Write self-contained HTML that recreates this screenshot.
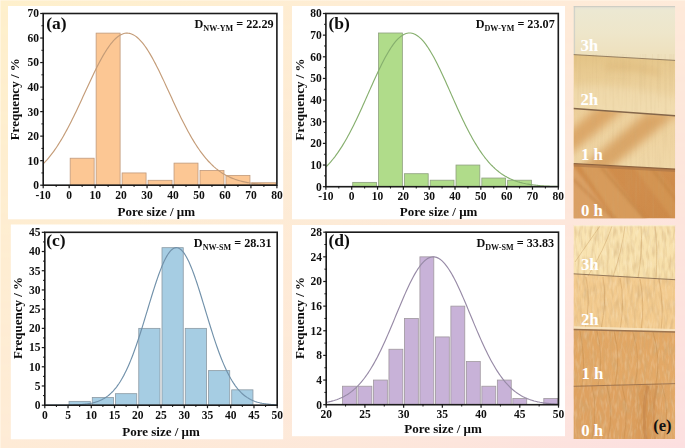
<!DOCTYPE html>
<html><head><meta charset="utf-8"><style>
html,body{margin:0;padding:0;}
body{width:685px;height:448px;overflow:hidden;position:relative;background:#FDEBD8;}
svg{position:absolute;left:0;top:0;}
</style></head><body>
<svg width="685" height="448" viewBox="0 0 685 448">
<defs>
<linearGradient id="gtop" x1="0" y1="0" x2="1" y2="0">
<stop offset="0" stop-color="#FEF0CC"/><stop offset="0.5" stop-color="#FEEDD4"/><stop offset="1" stop-color="#FEEADA"/></linearGradient>
<linearGradient id="gbot" x1="0" y1="0" x2="1" y2="0">
<stop offset="0" stop-color="#FEEBD6"/><stop offset="0.5" stop-color="#FDE8DA"/><stop offset="1" stop-color="#FCDFE0"/></linearGradient>
<linearGradient id="gvm" x1="0" y1="0" x2="0" y2="1">
<stop offset="0" stop-color="#000"/><stop offset="1" stop-color="#fff"/></linearGradient>
<mask id="mv" maskUnits="userSpaceOnUse" x="0" y="0" width="685" height="448"><rect x="0" y="0" width="685" height="448" fill="url(#gvm)"/></mask>
</defs>
<rect x="0" y="0" width="685" height="448" fill="url(#gtop)"/>
<rect x="0" y="0" width="685" height="448" fill="url(#gbot)" mask="url(#mv)"/>
<rect x="0" y="0" width="1" height="448" fill="#FFF8EA" opacity="0.6"/>
<rect x="0" y="0" width="685" height="1" fill="#FFF8EA" opacity="0.5"/>
<rect x="8" y="6" width="275.2" height="213.3" fill="#fff"/>
<rect x="292" y="6" width="273" height="213.3" fill="#fff"/>
<rect x="10.8" y="224.5" width="272.4" height="214.8" fill="#fff"/>
<rect x="292" y="225" width="273" height="211.2" fill="#fff"/>
<filter id="soft" x="-5%" y="-5%" width="110%" height="110%"><feGaussianBlur stdDeviation="0.35"/></filter>
<g font-family='"Liberation Serif", serif' font-weight="bold" fill="#111" filter="url(#soft)">
<rect x="70.17" y="158.22" width="23.97" height="26.98" fill="#FCC794" stroke="#C09A7C" stroke-width="0.8"/>
<rect x="96.13" y="33.12" width="23.97" height="152.08" fill="#FCC794" stroke="#C09A7C" stroke-width="0.8"/>
<rect x="122.1" y="172.94" width="23.97" height="12.26" fill="#FCC794" stroke="#C09A7C" stroke-width="0.8"/>
<rect x="148.07" y="180.29" width="23.97" height="4.91" fill="#FCC794" stroke="#C09A7C" stroke-width="0.8"/>
<rect x="174.03" y="163.12" width="23.97" height="22.08" fill="#FCC794" stroke="#C09A7C" stroke-width="0.8"/>
<rect x="200" y="170.48" width="23.97" height="14.72" fill="#FCC794" stroke="#C09A7C" stroke-width="0.8"/>
<rect x="225.97" y="175.39" width="23.97" height="9.81" fill="#FCC794" stroke="#C09A7C" stroke-width="0.8"/>
<rect x="251.93" y="182.75" width="23.97" height="2.45" fill="#FCC794" stroke="#C09A7C" stroke-width="0.8"/>
<polyline fill="none" stroke="#C49C78" stroke-width="1.15" points="43.2,163.82 44.37,162.63 45.54,161.39 46.71,160.1 47.87,158.76 49.04,157.37 50.21,155.93 51.38,154.43 52.55,152.89 53.72,151.29 54.89,149.65 56.05,147.95 57.22,146.2 58.39,144.39 59.56,142.54 60.73,140.64 61.9,138.69 63.06,136.69 64.23,134.64 65.4,132.54 66.57,130.4 67.74,128.22 68.91,126 70.08,123.73 71.24,121.43 72.41,119.09 73.58,116.72 74.75,114.32 75.92,111.88 77.09,109.43 78.25,106.95 79.42,104.45 80.59,101.93 81.76,99.4 82.93,96.86 84.1,94.32 85.27,91.77 86.43,89.23 87.6,86.69 88.77,84.16 89.94,81.65 91.11,79.15 92.28,76.68 93.45,74.23 94.61,71.81 95.78,69.43 96.95,67.09 98.12,64.8 99.29,62.55 100.46,60.36 101.62,58.22 102.79,56.15 103.96,54.14 105.13,52.2 106.3,50.34 107.47,48.55 108.64,46.85 109.8,45.23 110.97,43.7 112.14,42.27 113.31,40.92 114.48,39.68 115.65,38.54 116.82,37.5 117.98,36.57 119.15,35.74 120.32,35.03 121.49,34.43 122.66,33.94 123.83,33.56 124.99,33.3 126.16,33.16 127.33,33.13 128.5,33.21 129.67,33.41 130.84,33.73 132.01,34.16 133.17,34.71 134.34,35.37 135.51,36.13 136.68,37.01 137.85,38 139.02,39.09 140.19,40.28 141.35,41.57 142.52,42.96 143.69,44.44 144.86,46.01 146.03,47.67 147.2,49.42 148.37,51.24 149.53,53.14 150.7,55.11 151.87,57.15 153.04,59.26 154.21,61.42 155.38,63.64 156.54,65.91 157.71,68.23 158.88,70.59 160.05,72.99 161.22,75.42 162.39,77.88 163.56,80.37 164.72,82.87 165.89,85.4 167.06,87.93 168.23,90.47 169.4,93.02 170.57,95.56 171.74,98.1 172.9,100.64 174.07,103.16 175.24,105.67 176.41,108.16 177.58,110.63 178.75,113.08 179.91,115.49 181.08,117.88 182.25,120.24 183.42,122.56 184.59,124.84 185.76,127.09 186.93,129.29 188.09,131.46 189.26,133.57 190.43,135.65 191.6,137.67 192.77,139.65 193.94,141.58 195.11,143.45 196.27,145.28 197.44,147.06 198.61,148.78 199.78,150.46 200.95,152.08 202.12,153.65 203.28,155.17 204.45,156.64 205.62,158.05 206.79,159.42 207.96,160.74 209.13,162 210.3,163.22 211.46,164.39 212.63,165.51 213.8,166.59 214.97,167.62 216.14,168.61 217.31,169.55 218.47,170.45 219.64,171.31 220.81,172.13 221.98,172.91 223.15,173.65 224.32,174.36 225.49,175.03 226.65,175.66 227.82,176.27 228.99,176.84 230.16,177.38 231.33,177.89 232.5,178.37 233.67,178.83 234.83,179.26 236,179.67 237.17,180.05 238.34,180.41 239.51,180.74 240.68,181.06 241.84,181.36 243.01,181.64 244.18,181.9 245.35,182.14 246.52,182.37 247.69,182.58 248.86,182.78 250.02,182.97 251.19,183.14 252.36,183.3 253.53,183.45 254.7,183.59 255.87,183.72 257.04,183.84 258.2,183.95 259.37,184.05 260.54,184.15 261.71,184.24 262.88,184.32 264.05,184.39 265.21,184.46 266.38,184.53 267.55,184.58 268.72,184.64 269.89,184.69 271.06,184.73 272.23,184.78 273.39,184.81 274.56,184.85 275.73,184.88 276.9,184.91"/>
<rect x="43.2" y="13.5" width="233.7" height="171.7" fill="none" stroke="#1a1a1a" stroke-width="1.6"/>
<line x1="40.2" y1="185.2" x2="43.2" y2="185.2" stroke="#1a1a1a" stroke-width="1.2"/>
<text x="39" y="189.11" text-anchor="end" font-size="11.5">0</text>
<line x1="40.2" y1="160.67" x2="43.2" y2="160.67" stroke="#1a1a1a" stroke-width="1.2"/>
<text x="39" y="164.58" text-anchor="end" font-size="11.5">10</text>
<line x1="40.2" y1="136.14" x2="43.2" y2="136.14" stroke="#1a1a1a" stroke-width="1.2"/>
<text x="39" y="140.05" text-anchor="end" font-size="11.5">20</text>
<line x1="40.2" y1="111.61" x2="43.2" y2="111.61" stroke="#1a1a1a" stroke-width="1.2"/>
<text x="39" y="115.52" text-anchor="end" font-size="11.5">30</text>
<line x1="40.2" y1="87.09" x2="43.2" y2="87.09" stroke="#1a1a1a" stroke-width="1.2"/>
<text x="39" y="91" text-anchor="end" font-size="11.5">40</text>
<line x1="40.2" y1="62.56" x2="43.2" y2="62.56" stroke="#1a1a1a" stroke-width="1.2"/>
<text x="39" y="66.47" text-anchor="end" font-size="11.5">50</text>
<line x1="40.2" y1="38.03" x2="43.2" y2="38.03" stroke="#1a1a1a" stroke-width="1.2"/>
<text x="39" y="41.94" text-anchor="end" font-size="11.5">60</text>
<line x1="40.2" y1="13.5" x2="43.2" y2="13.5" stroke="#1a1a1a" stroke-width="1.2"/>
<text x="39" y="17.41" text-anchor="end" font-size="11.5">70</text>
<line x1="41.4" y1="172.94" x2="43.2" y2="172.94" stroke="#1a1a1a" stroke-width="1"/>
<line x1="41.4" y1="148.41" x2="43.2" y2="148.41" stroke="#1a1a1a" stroke-width="1"/>
<line x1="41.4" y1="123.88" x2="43.2" y2="123.88" stroke="#1a1a1a" stroke-width="1"/>
<line x1="41.4" y1="99.35" x2="43.2" y2="99.35" stroke="#1a1a1a" stroke-width="1"/>
<line x1="41.4" y1="74.82" x2="43.2" y2="74.82" stroke="#1a1a1a" stroke-width="1"/>
<line x1="41.4" y1="50.29" x2="43.2" y2="50.29" stroke="#1a1a1a" stroke-width="1"/>
<line x1="41.4" y1="25.76" x2="43.2" y2="25.76" stroke="#1a1a1a" stroke-width="1"/>
<line x1="43.2" y1="185.2" x2="43.2" y2="188.2" stroke="#1a1a1a" stroke-width="1.2"/>
<text x="43.2" y="198.56" text-anchor="middle" font-size="11.5">-10</text>
<line x1="69.17" y1="185.2" x2="69.17" y2="188.2" stroke="#1a1a1a" stroke-width="1.2"/>
<text x="69.17" y="198.56" text-anchor="middle" font-size="11.5">0</text>
<line x1="95.13" y1="185.2" x2="95.13" y2="188.2" stroke="#1a1a1a" stroke-width="1.2"/>
<text x="95.13" y="198.56" text-anchor="middle" font-size="11.5">10</text>
<line x1="121.1" y1="185.2" x2="121.1" y2="188.2" stroke="#1a1a1a" stroke-width="1.2"/>
<text x="121.1" y="198.56" text-anchor="middle" font-size="11.5">20</text>
<line x1="147.07" y1="185.2" x2="147.07" y2="188.2" stroke="#1a1a1a" stroke-width="1.2"/>
<text x="147.07" y="198.56" text-anchor="middle" font-size="11.5">30</text>
<line x1="173.03" y1="185.2" x2="173.03" y2="188.2" stroke="#1a1a1a" stroke-width="1.2"/>
<text x="173.03" y="198.56" text-anchor="middle" font-size="11.5">40</text>
<line x1="199" y1="185.2" x2="199" y2="188.2" stroke="#1a1a1a" stroke-width="1.2"/>
<text x="199" y="198.56" text-anchor="middle" font-size="11.5">50</text>
<line x1="224.97" y1="185.2" x2="224.97" y2="188.2" stroke="#1a1a1a" stroke-width="1.2"/>
<text x="224.97" y="198.56" text-anchor="middle" font-size="11.5">60</text>
<line x1="250.93" y1="185.2" x2="250.93" y2="188.2" stroke="#1a1a1a" stroke-width="1.2"/>
<text x="250.93" y="198.56" text-anchor="middle" font-size="11.5">70</text>
<line x1="276.9" y1="185.2" x2="276.9" y2="188.2" stroke="#1a1a1a" stroke-width="1.2"/>
<text x="276.9" y="198.56" text-anchor="middle" font-size="11.5">80</text>
<line x1="56.18" y1="185.2" x2="56.18" y2="187" stroke="#1a1a1a" stroke-width="1"/>
<line x1="82.15" y1="185.2" x2="82.15" y2="187" stroke="#1a1a1a" stroke-width="1"/>
<line x1="108.12" y1="185.2" x2="108.12" y2="187" stroke="#1a1a1a" stroke-width="1"/>
<line x1="134.08" y1="185.2" x2="134.08" y2="187" stroke="#1a1a1a" stroke-width="1"/>
<line x1="160.05" y1="185.2" x2="160.05" y2="187" stroke="#1a1a1a" stroke-width="1"/>
<line x1="186.02" y1="185.2" x2="186.02" y2="187" stroke="#1a1a1a" stroke-width="1"/>
<line x1="211.98" y1="185.2" x2="211.98" y2="187" stroke="#1a1a1a" stroke-width="1"/>
<line x1="237.95" y1="185.2" x2="237.95" y2="187" stroke="#1a1a1a" stroke-width="1"/>
<line x1="263.92" y1="185.2" x2="263.92" y2="187" stroke="#1a1a1a" stroke-width="1"/>
<text x="156.3" y="216.2" text-anchor="middle" font-size="13">Pore size / &#956;m</text>
<text transform="translate(18.7 99.3) rotate(-90)" text-anchor="middle" font-size="13">Frequency / %</text>
<text x="46.3" y="29.2" font-size="17.5">(a)</text>
<text x="273.6" y="28" text-anchor="end" font-size="12.2">D<tspan font-size="8.1" dy="3">NW-YM</tspan><tspan dy="-3"> = 22.29</tspan></text>
<rect x="352.72" y="182.37" width="23.82" height="4.33" fill="#B0DC8A" stroke="#8EA07E" stroke-width="0.8"/>
<rect x="378.54" y="32.99" width="23.82" height="153.71" fill="#B0DC8A" stroke="#8EA07E" stroke-width="0.8"/>
<rect x="404.37" y="173.71" width="23.82" height="12.99" fill="#B0DC8A" stroke="#8EA07E" stroke-width="0.8"/>
<rect x="430.19" y="180.2" width="23.82" height="6.5" fill="#B0DC8A" stroke="#8EA07E" stroke-width="0.8"/>
<rect x="456.01" y="165.05" width="23.82" height="21.65" fill="#B0DC8A" stroke="#8EA07E" stroke-width="0.8"/>
<rect x="481.83" y="178.04" width="23.82" height="8.66" fill="#B0DC8A" stroke="#8EA07E" stroke-width="0.8"/>
<rect x="507.66" y="180.2" width="23.82" height="6.5" fill="#B0DC8A" stroke="#8EA07E" stroke-width="0.8"/>
<polyline fill="none" stroke="#86AF6E" stroke-width="1.15" points="325.9,166.92 327.06,165.77 328.22,164.57 329.39,163.32 330.55,162.01 331.71,160.66 332.87,159.25 334.03,157.79 335.2,156.28 336.36,154.71 337.52,153.09 338.68,151.42 339.84,149.69 341.01,147.9 342.17,146.07 343.33,144.17 344.49,142.23 345.65,140.24 346.82,138.19 347.98,136.09 349.14,133.95 350.3,131.75 351.46,129.51 352.63,127.23 353.79,124.9 354.95,122.54 356.11,120.13 357.27,117.69 358.44,115.22 359.6,112.72 360.76,110.19 361.92,107.64 363.08,105.06 364.25,102.47 365.41,99.87 366.57,97.25 367.73,94.63 368.89,92.01 370.06,89.39 371.22,86.78 372.38,84.18 373.54,81.59 374.7,79.02 375.87,76.48 377.03,73.97 378.19,71.49 379.35,69.05 380.51,66.65 381.68,64.3 382.84,62 384,59.77 385.16,57.59 386.32,55.48 387.49,53.44 388.65,51.47 389.81,49.59 390.97,47.79 392.13,46.07 393.3,44.45 394.46,42.92 395.62,41.49 396.78,40.17 397.94,38.95 399.11,37.83 400.27,36.83 401.43,35.94 402.59,35.16 403.75,34.5 404.92,33.95 406.08,33.53 407.24,33.23 408.4,33.05 409.56,32.99 410.73,33.05 411.89,33.23 413.05,33.53 414.21,33.95 415.37,34.5 416.54,35.16 417.7,35.94 418.86,36.83 420.02,37.83 421.18,38.95 422.35,40.17 423.51,41.49 424.67,42.92 425.83,44.45 426.99,46.07 428.16,47.79 429.32,49.59 430.48,51.47 431.64,53.44 432.8,55.48 433.97,57.59 435.13,59.77 436.29,62 437.45,64.3 438.61,66.65 439.78,69.05 440.94,71.49 442.1,73.97 443.26,76.48 444.42,79.02 445.59,81.59 446.75,84.18 447.91,86.78 449.07,89.39 450.23,92.01 451.4,94.63 452.56,97.25 453.72,99.87 454.88,102.47 456.04,105.06 457.21,107.64 458.37,110.19 459.53,112.72 460.69,115.22 461.85,117.69 463.02,120.13 464.18,122.54 465.34,124.9 466.5,127.23 467.66,129.51 468.83,131.75 469.99,133.95 471.15,136.09 472.31,138.19 473.47,140.24 474.64,142.23 475.8,144.17 476.96,146.07 478.12,147.9 479.28,149.69 480.45,151.42 481.61,153.09 482.77,154.71 483.93,156.28 485.09,157.79 486.26,159.25 487.42,160.66 488.58,162.01 489.74,163.32 490.9,164.57 492.07,165.77 493.23,166.92 494.39,168.02 495.55,169.08 496.71,170.08 497.88,171.05 499.04,171.97 500.2,172.84 501.36,173.68 502.52,174.47 503.69,175.22 504.85,175.94 506.01,176.62 507.17,177.27 508.33,177.88 509.5,178.45 510.66,179 511.82,179.51 512.98,180 514.14,180.46 515.31,180.89 516.47,181.29 517.63,181.68 518.79,182.03 519.95,182.37 521.12,182.68 522.28,182.98 523.44,183.26 524.6,183.51 525.76,183.76 526.93,183.98 528.09,184.19 529.25,184.39 530.41,184.57 531.57,184.74 532.74,184.89 533.9,185.04 535.06,185.18 536.22,185.3 537.38,185.42 538.55,185.52 539.71,185.62 540.87,185.72 542.03,185.8 543.19,185.88 544.36,185.95 545.52,186.02 546.68,186.08 547.84,186.13 549,186.18 550.17,186.23 551.33,186.27 552.49,186.31 553.65,186.35 554.81,186.38 555.98,186.41 557.14,186.44 558.3,186.46"/>
<rect x="325.9" y="13.5" width="232.4" height="173.2" fill="none" stroke="#1a1a1a" stroke-width="1.6"/>
<line x1="322.9" y1="186.7" x2="325.9" y2="186.7" stroke="#1a1a1a" stroke-width="1.2"/>
<text x="321.7" y="190.61" text-anchor="end" font-size="11.5">0</text>
<line x1="322.9" y1="165.05" x2="325.9" y2="165.05" stroke="#1a1a1a" stroke-width="1.2"/>
<text x="321.7" y="168.96" text-anchor="end" font-size="11.5">10</text>
<line x1="322.9" y1="143.4" x2="325.9" y2="143.4" stroke="#1a1a1a" stroke-width="1.2"/>
<text x="321.7" y="147.31" text-anchor="end" font-size="11.5">20</text>
<line x1="322.9" y1="121.75" x2="325.9" y2="121.75" stroke="#1a1a1a" stroke-width="1.2"/>
<text x="321.7" y="125.66" text-anchor="end" font-size="11.5">30</text>
<line x1="322.9" y1="100.1" x2="325.9" y2="100.1" stroke="#1a1a1a" stroke-width="1.2"/>
<text x="321.7" y="104.01" text-anchor="end" font-size="11.5">40</text>
<line x1="322.9" y1="78.45" x2="325.9" y2="78.45" stroke="#1a1a1a" stroke-width="1.2"/>
<text x="321.7" y="82.36" text-anchor="end" font-size="11.5">50</text>
<line x1="322.9" y1="56.8" x2="325.9" y2="56.8" stroke="#1a1a1a" stroke-width="1.2"/>
<text x="321.7" y="60.71" text-anchor="end" font-size="11.5">60</text>
<line x1="322.9" y1="35.15" x2="325.9" y2="35.15" stroke="#1a1a1a" stroke-width="1.2"/>
<text x="321.7" y="39.06" text-anchor="end" font-size="11.5">70</text>
<line x1="322.9" y1="13.5" x2="325.9" y2="13.5" stroke="#1a1a1a" stroke-width="1.2"/>
<text x="321.7" y="17.41" text-anchor="end" font-size="11.5">80</text>
<line x1="324.1" y1="175.88" x2="325.9" y2="175.88" stroke="#1a1a1a" stroke-width="1"/>
<line x1="324.1" y1="154.22" x2="325.9" y2="154.22" stroke="#1a1a1a" stroke-width="1"/>
<line x1="324.1" y1="132.57" x2="325.9" y2="132.57" stroke="#1a1a1a" stroke-width="1"/>
<line x1="324.1" y1="110.92" x2="325.9" y2="110.92" stroke="#1a1a1a" stroke-width="1"/>
<line x1="324.1" y1="89.27" x2="325.9" y2="89.27" stroke="#1a1a1a" stroke-width="1"/>
<line x1="324.1" y1="67.62" x2="325.9" y2="67.62" stroke="#1a1a1a" stroke-width="1"/>
<line x1="324.1" y1="45.97" x2="325.9" y2="45.97" stroke="#1a1a1a" stroke-width="1"/>
<line x1="324.1" y1="24.32" x2="325.9" y2="24.32" stroke="#1a1a1a" stroke-width="1"/>
<line x1="325.9" y1="186.7" x2="325.9" y2="189.7" stroke="#1a1a1a" stroke-width="1.2"/>
<text x="325.9" y="200.06" text-anchor="middle" font-size="11.5">-10</text>
<line x1="351.72" y1="186.7" x2="351.72" y2="189.7" stroke="#1a1a1a" stroke-width="1.2"/>
<text x="351.72" y="200.06" text-anchor="middle" font-size="11.5">0</text>
<line x1="377.54" y1="186.7" x2="377.54" y2="189.7" stroke="#1a1a1a" stroke-width="1.2"/>
<text x="377.54" y="200.06" text-anchor="middle" font-size="11.5">10</text>
<line x1="403.37" y1="186.7" x2="403.37" y2="189.7" stroke="#1a1a1a" stroke-width="1.2"/>
<text x="403.37" y="200.06" text-anchor="middle" font-size="11.5">20</text>
<line x1="429.19" y1="186.7" x2="429.19" y2="189.7" stroke="#1a1a1a" stroke-width="1.2"/>
<text x="429.19" y="200.06" text-anchor="middle" font-size="11.5">30</text>
<line x1="455.01" y1="186.7" x2="455.01" y2="189.7" stroke="#1a1a1a" stroke-width="1.2"/>
<text x="455.01" y="200.06" text-anchor="middle" font-size="11.5">40</text>
<line x1="480.83" y1="186.7" x2="480.83" y2="189.7" stroke="#1a1a1a" stroke-width="1.2"/>
<text x="480.83" y="200.06" text-anchor="middle" font-size="11.5">50</text>
<line x1="506.66" y1="186.7" x2="506.66" y2="189.7" stroke="#1a1a1a" stroke-width="1.2"/>
<text x="506.66" y="200.06" text-anchor="middle" font-size="11.5">60</text>
<line x1="532.48" y1="186.7" x2="532.48" y2="189.7" stroke="#1a1a1a" stroke-width="1.2"/>
<text x="532.48" y="200.06" text-anchor="middle" font-size="11.5">70</text>
<line x1="558.3" y1="186.7" x2="558.3" y2="189.7" stroke="#1a1a1a" stroke-width="1.2"/>
<text x="558.3" y="200.06" text-anchor="middle" font-size="11.5">80</text>
<line x1="338.81" y1="186.7" x2="338.81" y2="188.5" stroke="#1a1a1a" stroke-width="1"/>
<line x1="364.63" y1="186.7" x2="364.63" y2="188.5" stroke="#1a1a1a" stroke-width="1"/>
<line x1="390.46" y1="186.7" x2="390.46" y2="188.5" stroke="#1a1a1a" stroke-width="1"/>
<line x1="416.28" y1="186.7" x2="416.28" y2="188.5" stroke="#1a1a1a" stroke-width="1"/>
<line x1="442.1" y1="186.7" x2="442.1" y2="188.5" stroke="#1a1a1a" stroke-width="1"/>
<line x1="467.92" y1="186.7" x2="467.92" y2="188.5" stroke="#1a1a1a" stroke-width="1"/>
<line x1="493.74" y1="186.7" x2="493.74" y2="188.5" stroke="#1a1a1a" stroke-width="1"/>
<line x1="519.57" y1="186.7" x2="519.57" y2="188.5" stroke="#1a1a1a" stroke-width="1"/>
<line x1="545.39" y1="186.7" x2="545.39" y2="188.5" stroke="#1a1a1a" stroke-width="1"/>
<text x="438.6" y="216.2" text-anchor="middle" font-size="13">Pore size / &#956;m</text>
<text transform="translate(303.5 99.5) rotate(-90)" text-anchor="middle" font-size="13">Frequency / %</text>
<text x="328.5" y="29.2" font-size="17.5">(b)</text>
<text x="554.8" y="28" text-anchor="end" font-size="12.2">D<tspan font-size="8.1" dy="3">DW-YM</tspan><tspan dy="-3"> = 23.07</tspan></text>
<rect x="69.04" y="401.36" width="21.24" height="3.84" fill="#A6CDE3" stroke="#8C9AA4" stroke-width="0.8"/>
<rect x="92.28" y="397.52" width="21.24" height="7.68" fill="#A6CDE3" stroke="#8C9AA4" stroke-width="0.8"/>
<rect x="115.52" y="393.67" width="21.24" height="11.53" fill="#A6CDE3" stroke="#8C9AA4" stroke-width="0.8"/>
<rect x="138.76" y="328.36" width="21.24" height="76.84" fill="#A6CDE3" stroke="#8C9AA4" stroke-width="0.8"/>
<rect x="162" y="247.67" width="21.24" height="157.53" fill="#A6CDE3" stroke="#8C9AA4" stroke-width="0.8"/>
<rect x="185.24" y="328.36" width="21.24" height="76.84" fill="#A6CDE3" stroke="#8C9AA4" stroke-width="0.8"/>
<rect x="208.48" y="370.62" width="21.24" height="34.58" fill="#A6CDE3" stroke="#8C9AA4" stroke-width="0.8"/>
<rect x="231.72" y="389.83" width="21.24" height="15.37" fill="#A6CDE3" stroke="#8C9AA4" stroke-width="0.8"/>
<polyline fill="none" stroke="#7191AA" stroke-width="1.15" points="44.8,405.2 45.96,405.19 47.12,405.19 48.29,405.19 49.45,405.19 50.61,405.19 51.77,405.19 52.93,405.18 54.1,405.18 55.26,405.18 56.42,405.17 57.58,405.17 58.74,405.16 59.91,405.16 61.07,405.15 62.23,405.14 63.39,405.13 64.55,405.12 65.72,405.1 66.88,405.08 68.04,405.07 69.2,405.04 70.36,405.02 71.53,404.99 72.69,404.96 73.85,404.92 75.01,404.88 76.17,404.83 77.34,404.77 78.5,404.71 79.66,404.64 80.82,404.56 81.98,404.46 83.15,404.36 84.31,404.24 85.47,404.11 86.63,403.97 87.79,403.8 88.96,403.62 90.12,403.42 91.28,403.19 92.44,402.94 93.6,402.66 94.77,402.35 95.93,402 97.09,401.63 98.25,401.21 99.41,400.75 100.58,400.25 101.74,399.7 102.9,399.1 104.06,398.44 105.22,397.73 106.39,396.96 107.55,396.11 108.71,395.2 109.87,394.22 111.03,393.16 112.2,392.02 113.36,390.79 114.52,389.47 115.68,388.07 116.84,386.56 118.01,384.96 119.17,383.25 120.33,381.44 121.49,379.53 122.65,377.5 123.82,375.36 124.98,373.11 126.14,370.75 127.3,368.27 128.46,365.67 129.63,362.97 130.79,360.15 131.95,357.22 133.11,354.18 134.27,351.04 135.44,347.8 136.6,344.46 137.76,341.04 138.92,337.53 140.08,333.95 141.25,330.3 142.41,326.58 143.57,322.82 144.73,319.02 145.89,315.19 147.06,311.35 148.22,307.5 149.38,303.65 150.54,299.83 151.7,296.03 152.87,292.29 154.03,288.61 155.19,285 156.35,281.48 157.51,278.07 158.68,274.77 159.84,271.61 161,268.59 162.16,265.73 163.32,263.05 164.49,260.54 165.65,258.23 166.81,256.13 167.97,254.24 169.13,252.58 170.3,251.15 171.46,249.95 172.62,249.01 173.78,248.31 174.94,247.87 176.11,247.68 177.27,247.74 178.43,248.07 179.59,248.64 180.75,249.47 181.92,250.54 183.08,251.86 184.24,253.41 185.4,255.19 186.56,257.2 187.73,259.41 188.89,261.82 190.05,264.42 191.21,267.2 192.37,270.14 193.54,273.24 194.7,276.47 195.86,279.83 197.02,283.3 198.18,286.87 199.35,290.51 200.51,294.23 201.67,298 202.83,301.81 203.99,305.65 205.16,309.5 206.32,313.35 207.48,317.19 208.64,321 209.8,324.79 210.97,328.52 212.13,332.2 213.29,335.82 214.45,339.37 215.61,342.83 216.78,346.21 217.94,349.5 219.1,352.69 220.26,355.77 221.42,358.75 222.59,361.63 223.75,364.39 224.91,367.04 226.07,369.57 227.23,371.99 228.4,374.3 229.56,376.49 230.72,378.57 231.88,380.54 233.04,382.4 234.21,384.15 235.37,385.81 236.53,387.36 237.69,388.81 238.85,390.17 240.02,391.44 241.18,392.62 242.34,393.72 243.5,394.74 244.66,395.69 245.83,396.56 246.99,397.37 248.15,398.11 249.31,398.79 250.47,399.42 251.64,399.99 252.8,400.52 253.96,400.99 255.12,401.43 256.28,401.83 257.45,402.19 258.61,402.51 259.77,402.81 260.93,403.07 262.09,403.31 263.26,403.52 264.42,403.72 265.58,403.89 266.74,404.05 267.9,404.18 269.07,404.31 270.23,404.42 271.39,404.51 272.55,404.6 273.71,404.67 274.88,404.74 276.04,404.8 277.2,404.85"/>
<rect x="44.8" y="232.3" width="232.4" height="172.9" fill="none" stroke="#1a1a1a" stroke-width="1.6"/>
<line x1="41.8" y1="405.2" x2="44.8" y2="405.2" stroke="#1a1a1a" stroke-width="1.2"/>
<text x="40.6" y="409.11" text-anchor="end" font-size="11.5">0</text>
<line x1="41.8" y1="385.99" x2="44.8" y2="385.99" stroke="#1a1a1a" stroke-width="1.2"/>
<text x="40.6" y="389.9" text-anchor="end" font-size="11.5">5</text>
<line x1="41.8" y1="366.78" x2="44.8" y2="366.78" stroke="#1a1a1a" stroke-width="1.2"/>
<text x="40.6" y="370.69" text-anchor="end" font-size="11.5">10</text>
<line x1="41.8" y1="347.57" x2="44.8" y2="347.57" stroke="#1a1a1a" stroke-width="1.2"/>
<text x="40.6" y="351.48" text-anchor="end" font-size="11.5">15</text>
<line x1="41.8" y1="328.36" x2="44.8" y2="328.36" stroke="#1a1a1a" stroke-width="1.2"/>
<text x="40.6" y="332.27" text-anchor="end" font-size="11.5">20</text>
<line x1="41.8" y1="309.14" x2="44.8" y2="309.14" stroke="#1a1a1a" stroke-width="1.2"/>
<text x="40.6" y="313.05" text-anchor="end" font-size="11.5">25</text>
<line x1="41.8" y1="289.93" x2="44.8" y2="289.93" stroke="#1a1a1a" stroke-width="1.2"/>
<text x="40.6" y="293.84" text-anchor="end" font-size="11.5">30</text>
<line x1="41.8" y1="270.72" x2="44.8" y2="270.72" stroke="#1a1a1a" stroke-width="1.2"/>
<text x="40.6" y="274.63" text-anchor="end" font-size="11.5">35</text>
<line x1="41.8" y1="251.51" x2="44.8" y2="251.51" stroke="#1a1a1a" stroke-width="1.2"/>
<text x="40.6" y="255.42" text-anchor="end" font-size="11.5">40</text>
<line x1="41.8" y1="232.3" x2="44.8" y2="232.3" stroke="#1a1a1a" stroke-width="1.2"/>
<text x="40.6" y="236.21" text-anchor="end" font-size="11.5">45</text>
<line x1="43" y1="395.59" x2="44.8" y2="395.59" stroke="#1a1a1a" stroke-width="1"/>
<line x1="43" y1="376.38" x2="44.8" y2="376.38" stroke="#1a1a1a" stroke-width="1"/>
<line x1="43" y1="357.17" x2="44.8" y2="357.17" stroke="#1a1a1a" stroke-width="1"/>
<line x1="43" y1="337.96" x2="44.8" y2="337.96" stroke="#1a1a1a" stroke-width="1"/>
<line x1="43" y1="318.75" x2="44.8" y2="318.75" stroke="#1a1a1a" stroke-width="1"/>
<line x1="43" y1="299.54" x2="44.8" y2="299.54" stroke="#1a1a1a" stroke-width="1"/>
<line x1="43" y1="280.33" x2="44.8" y2="280.33" stroke="#1a1a1a" stroke-width="1"/>
<line x1="43" y1="261.12" x2="44.8" y2="261.12" stroke="#1a1a1a" stroke-width="1"/>
<line x1="43" y1="241.91" x2="44.8" y2="241.91" stroke="#1a1a1a" stroke-width="1"/>
<line x1="44.8" y1="405.2" x2="44.8" y2="408.2" stroke="#1a1a1a" stroke-width="1.2"/>
<text x="44.8" y="418.56" text-anchor="middle" font-size="11.5">0</text>
<line x1="68.04" y1="405.2" x2="68.04" y2="408.2" stroke="#1a1a1a" stroke-width="1.2"/>
<text x="68.04" y="418.56" text-anchor="middle" font-size="11.5">5</text>
<line x1="91.28" y1="405.2" x2="91.28" y2="408.2" stroke="#1a1a1a" stroke-width="1.2"/>
<text x="91.28" y="418.56" text-anchor="middle" font-size="11.5">10</text>
<line x1="114.52" y1="405.2" x2="114.52" y2="408.2" stroke="#1a1a1a" stroke-width="1.2"/>
<text x="114.52" y="418.56" text-anchor="middle" font-size="11.5">15</text>
<line x1="137.76" y1="405.2" x2="137.76" y2="408.2" stroke="#1a1a1a" stroke-width="1.2"/>
<text x="137.76" y="418.56" text-anchor="middle" font-size="11.5">20</text>
<line x1="161" y1="405.2" x2="161" y2="408.2" stroke="#1a1a1a" stroke-width="1.2"/>
<text x="161" y="418.56" text-anchor="middle" font-size="11.5">25</text>
<line x1="184.24" y1="405.2" x2="184.24" y2="408.2" stroke="#1a1a1a" stroke-width="1.2"/>
<text x="184.24" y="418.56" text-anchor="middle" font-size="11.5">30</text>
<line x1="207.48" y1="405.2" x2="207.48" y2="408.2" stroke="#1a1a1a" stroke-width="1.2"/>
<text x="207.48" y="418.56" text-anchor="middle" font-size="11.5">35</text>
<line x1="230.72" y1="405.2" x2="230.72" y2="408.2" stroke="#1a1a1a" stroke-width="1.2"/>
<text x="230.72" y="418.56" text-anchor="middle" font-size="11.5">40</text>
<line x1="253.96" y1="405.2" x2="253.96" y2="408.2" stroke="#1a1a1a" stroke-width="1.2"/>
<text x="253.96" y="418.56" text-anchor="middle" font-size="11.5">45</text>
<line x1="277.2" y1="405.2" x2="277.2" y2="408.2" stroke="#1a1a1a" stroke-width="1.2"/>
<text x="277.2" y="418.56" text-anchor="middle" font-size="11.5">50</text>
<line x1="56.42" y1="405.2" x2="56.42" y2="407" stroke="#1a1a1a" stroke-width="1"/>
<line x1="79.66" y1="405.2" x2="79.66" y2="407" stroke="#1a1a1a" stroke-width="1"/>
<line x1="102.9" y1="405.2" x2="102.9" y2="407" stroke="#1a1a1a" stroke-width="1"/>
<line x1="126.14" y1="405.2" x2="126.14" y2="407" stroke="#1a1a1a" stroke-width="1"/>
<line x1="149.38" y1="405.2" x2="149.38" y2="407" stroke="#1a1a1a" stroke-width="1"/>
<line x1="172.62" y1="405.2" x2="172.62" y2="407" stroke="#1a1a1a" stroke-width="1"/>
<line x1="195.86" y1="405.2" x2="195.86" y2="407" stroke="#1a1a1a" stroke-width="1"/>
<line x1="219.1" y1="405.2" x2="219.1" y2="407" stroke="#1a1a1a" stroke-width="1"/>
<line x1="242.34" y1="405.2" x2="242.34" y2="407" stroke="#1a1a1a" stroke-width="1"/>
<line x1="265.58" y1="405.2" x2="265.58" y2="407" stroke="#1a1a1a" stroke-width="1"/>
<text x="161" y="435.9" text-anchor="middle" font-size="13">Pore size / &#956;m</text>
<text transform="translate(21.5 318) rotate(-90)" text-anchor="middle" font-size="13">Frequency / %</text>
<text x="46.2" y="246.3" font-size="17.5">(c)</text>
<text x="271.6" y="246.8" text-anchor="end" font-size="12.2">D<tspan font-size="8.1" dy="3">NW-SM</tspan><tspan dy="-3"> = 28.31</tspan></text>
<rect x="342.49" y="386.22" width="13.89" height="18.48" fill="#C8B2D8" stroke="#A0989F" stroke-width="0.8"/>
<rect x="357.97" y="386.22" width="13.89" height="18.48" fill="#C8B2D8" stroke="#A0989F" stroke-width="0.8"/>
<rect x="373.46" y="380.06" width="13.89" height="24.64" fill="#C8B2D8" stroke="#A0989F" stroke-width="0.8"/>
<rect x="388.95" y="349.25" width="13.89" height="55.45" fill="#C8B2D8" stroke="#A0989F" stroke-width="0.8"/>
<rect x="404.43" y="318.45" width="13.89" height="86.25" fill="#C8B2D8" stroke="#A0989F" stroke-width="0.8"/>
<rect x="419.92" y="256.84" width="13.89" height="147.86" fill="#C8B2D8" stroke="#A0989F" stroke-width="0.8"/>
<rect x="435.41" y="336.93" width="13.89" height="67.77" fill="#C8B2D8" stroke="#A0989F" stroke-width="0.8"/>
<rect x="450.89" y="306.13" width="13.89" height="98.57" fill="#C8B2D8" stroke="#A0989F" stroke-width="0.8"/>
<rect x="466.38" y="361.57" width="13.89" height="43.12" fill="#C8B2D8" stroke="#A0989F" stroke-width="0.8"/>
<rect x="481.87" y="386.22" width="13.89" height="18.48" fill="#C8B2D8" stroke="#A0989F" stroke-width="0.8"/>
<rect x="497.35" y="380.06" width="13.89" height="24.64" fill="#C8B2D8" stroke="#A0989F" stroke-width="0.8"/>
<rect x="512.84" y="398.54" width="13.89" height="6.16" fill="#C8B2D8" stroke="#A0989F" stroke-width="0.8"/>
<rect x="543.81" y="398.54" width="13.89" height="6.16" fill="#C8B2D8" stroke="#A0989F" stroke-width="0.8"/>
<polyline fill="none" stroke="#978AA6" stroke-width="1.15" points="326.2,402.37 327.36,402.15 328.52,401.92 329.68,401.66 330.85,401.39 332.01,401.09 333.17,400.77 334.33,400.43 335.49,400.06 336.65,399.67 337.81,399.24 338.98,398.79 340.14,398.3 341.3,397.79 342.46,397.23 343.62,396.65 344.78,396.02 345.95,395.35 347.11,394.65 348.27,393.9 349.43,393.1 350.59,392.26 351.75,391.37 352.91,390.43 354.08,389.44 355.24,388.4 356.4,387.3 357.56,386.15 358.72,384.94 359.88,383.67 361.04,382.34 362.21,380.95 363.37,379.5 364.53,377.99 365.69,376.42 366.85,374.78 368.01,373.07 369.18,371.3 370.34,369.47 371.5,367.57 372.66,365.61 373.82,363.59 374.98,361.5 376.14,359.36 377.31,357.15 378.47,354.88 379.63,352.55 380.79,350.17 381.95,347.74 383.11,345.26 384.27,342.73 385.44,340.15 386.6,337.53 387.76,334.88 388.92,332.19 390.08,329.47 391.24,326.73 392.41,323.96 393.57,321.18 394.73,318.38 395.89,315.58 397.05,312.78 398.21,309.98 399.37,307.19 400.54,304.42 401.7,301.67 402.86,298.95 404.02,296.26 405.18,293.62 406.34,291.01 407.5,288.47 408.67,285.98 409.83,283.55 410.99,281.2 412.15,278.92 413.31,276.73 414.47,274.63 415.64,272.62 416.8,270.71 417.96,268.9 419.12,267.21 420.28,265.63 421.44,264.17 422.6,262.83 423.77,261.62 424.93,260.54 426.09,259.59 427.25,258.78 428.41,258.11 429.57,257.58 430.74,257.19 431.9,256.95 433.06,256.85 434.22,256.89 435.38,257.08 436.54,257.41 437.7,257.88 438.87,258.5 440.03,259.25 441.19,260.14 442.35,261.17 443.51,262.33 444.67,263.62 445.83,265.03 447,266.56 448.16,268.21 449.32,269.97 450.48,271.84 451.64,273.81 452.8,275.88 453.97,278.04 455.13,280.28 456.29,282.6 457.45,285 458.61,287.46 459.77,289.99 460.93,292.57 462.1,295.2 463.26,297.87 464.42,300.58 465.58,303.32 466.74,306.08 467.9,308.86 469.06,311.66 470.23,314.46 471.39,317.26 472.55,320.06 473.71,322.85 474.87,325.62 476.03,328.38 477.19,331.11 478.36,333.81 479.52,336.48 480.68,339.11 481.84,341.7 483,344.25 484.16,346.75 485.33,349.21 486.49,351.61 487.65,353.96 488.81,356.25 489.97,358.48 491.13,360.65 492.29,362.76 493.46,364.81 494.62,366.8 495.78,368.72 496.94,370.58 498.1,372.37 499.26,374.1 500.43,375.77 501.59,377.37 502.75,378.91 503.91,380.38 505.07,381.79 506.23,383.15 507.39,384.44 508.56,385.67 509.72,386.85 510.88,387.97 512.04,389.03 513.2,390.04 514.36,391 515.52,391.91 516.69,392.77 517.85,393.58 519.01,394.35 520.17,395.08 521.33,395.76 522.49,396.4 523.65,397 524.82,397.57 525.98,398.1 527.14,398.6 528.3,399.06 529.46,399.5 530.62,399.91 531.79,400.29 532.95,400.64 534.11,400.97 535.27,401.27 536.43,401.55 537.59,401.82 538.75,402.06 539.92,402.29 541.08,402.49 542.24,402.69 543.4,402.86 544.56,403.03 545.72,403.18 546.88,403.31 548.05,403.44 549.21,403.56 550.37,403.66 551.53,403.76 552.69,403.85 553.85,403.93 555.02,404.01 556.18,404.07 557.34,404.14 558.5,404.19"/>
<rect x="326.2" y="232.2" width="232.3" height="172.5" fill="none" stroke="#1a1a1a" stroke-width="1.6"/>
<line x1="323.2" y1="404.7" x2="326.2" y2="404.7" stroke="#1a1a1a" stroke-width="1.2"/>
<text x="322" y="408.61" text-anchor="end" font-size="11.5">0</text>
<line x1="323.2" y1="380.06" x2="326.2" y2="380.06" stroke="#1a1a1a" stroke-width="1.2"/>
<text x="322" y="383.97" text-anchor="end" font-size="11.5">4</text>
<line x1="323.2" y1="355.41" x2="326.2" y2="355.41" stroke="#1a1a1a" stroke-width="1.2"/>
<text x="322" y="359.32" text-anchor="end" font-size="11.5">8</text>
<line x1="323.2" y1="330.77" x2="326.2" y2="330.77" stroke="#1a1a1a" stroke-width="1.2"/>
<text x="322" y="334.68" text-anchor="end" font-size="11.5">12</text>
<line x1="323.2" y1="306.13" x2="326.2" y2="306.13" stroke="#1a1a1a" stroke-width="1.2"/>
<text x="322" y="310.04" text-anchor="end" font-size="11.5">16</text>
<line x1="323.2" y1="281.49" x2="326.2" y2="281.49" stroke="#1a1a1a" stroke-width="1.2"/>
<text x="322" y="285.4" text-anchor="end" font-size="11.5">20</text>
<line x1="323.2" y1="256.84" x2="326.2" y2="256.84" stroke="#1a1a1a" stroke-width="1.2"/>
<text x="322" y="260.75" text-anchor="end" font-size="11.5">24</text>
<line x1="323.2" y1="232.2" x2="326.2" y2="232.2" stroke="#1a1a1a" stroke-width="1.2"/>
<text x="322" y="236.11" text-anchor="end" font-size="11.5">28</text>
<line x1="324.4" y1="392.38" x2="326.2" y2="392.38" stroke="#1a1a1a" stroke-width="1"/>
<line x1="324.4" y1="367.74" x2="326.2" y2="367.74" stroke="#1a1a1a" stroke-width="1"/>
<line x1="324.4" y1="343.09" x2="326.2" y2="343.09" stroke="#1a1a1a" stroke-width="1"/>
<line x1="324.4" y1="318.45" x2="326.2" y2="318.45" stroke="#1a1a1a" stroke-width="1"/>
<line x1="324.4" y1="293.81" x2="326.2" y2="293.81" stroke="#1a1a1a" stroke-width="1"/>
<line x1="324.4" y1="269.16" x2="326.2" y2="269.16" stroke="#1a1a1a" stroke-width="1"/>
<line x1="324.4" y1="244.52" x2="326.2" y2="244.52" stroke="#1a1a1a" stroke-width="1"/>
<line x1="326.2" y1="404.7" x2="326.2" y2="407.7" stroke="#1a1a1a" stroke-width="1.2"/>
<text x="326.2" y="418.06" text-anchor="middle" font-size="11.5">20</text>
<line x1="364.92" y1="404.7" x2="364.92" y2="407.7" stroke="#1a1a1a" stroke-width="1.2"/>
<text x="364.92" y="418.06" text-anchor="middle" font-size="11.5">25</text>
<line x1="403.63" y1="404.7" x2="403.63" y2="407.7" stroke="#1a1a1a" stroke-width="1.2"/>
<text x="403.63" y="418.06" text-anchor="middle" font-size="11.5">30</text>
<line x1="442.35" y1="404.7" x2="442.35" y2="407.7" stroke="#1a1a1a" stroke-width="1.2"/>
<text x="442.35" y="418.06" text-anchor="middle" font-size="11.5">35</text>
<line x1="481.07" y1="404.7" x2="481.07" y2="407.7" stroke="#1a1a1a" stroke-width="1.2"/>
<text x="481.07" y="418.06" text-anchor="middle" font-size="11.5">40</text>
<line x1="519.78" y1="404.7" x2="519.78" y2="407.7" stroke="#1a1a1a" stroke-width="1.2"/>
<text x="519.78" y="418.06" text-anchor="middle" font-size="11.5">45</text>
<line x1="558.5" y1="404.7" x2="558.5" y2="407.7" stroke="#1a1a1a" stroke-width="1.2"/>
<text x="558.5" y="418.06" text-anchor="middle" font-size="11.5">50</text>
<line x1="345.56" y1="404.7" x2="345.56" y2="406.5" stroke="#1a1a1a" stroke-width="1"/>
<line x1="384.27" y1="404.7" x2="384.27" y2="406.5" stroke="#1a1a1a" stroke-width="1"/>
<line x1="422.99" y1="404.7" x2="422.99" y2="406.5" stroke="#1a1a1a" stroke-width="1"/>
<line x1="461.71" y1="404.7" x2="461.71" y2="406.5" stroke="#1a1a1a" stroke-width="1"/>
<line x1="500.43" y1="404.7" x2="500.43" y2="406.5" stroke="#1a1a1a" stroke-width="1"/>
<line x1="539.14" y1="404.7" x2="539.14" y2="406.5" stroke="#1a1a1a" stroke-width="1"/>
<text x="443" y="433.3" text-anchor="middle" font-size="13">Pore size / &#956;m</text>
<text transform="translate(303.5 318) rotate(-90)" text-anchor="middle" font-size="13">Frequency / %</text>
<text x="328.5" y="246.3" font-size="17.5">(d)</text>
<text x="554.2" y="246.8" text-anchor="end" font-size="12.2">D<tspan font-size="8.1" dy="3">DW-SM</tspan><tspan dy="-3"> = 33.83</tspan></text>
</g>
<defs>
<linearGradient id="t3" x1="0" y1="0" x2="0" y2="1">
<stop offset="0" stop-color="#E4E2D6"/><stop offset="0.08" stop-color="#ECE8D2"/><stop offset="0.5" stop-color="#EEE6CA"/><stop offset="1" stop-color="#EEDFBA"/></linearGradient>
<linearGradient id="t2" x1="0" y1="0" x2="0.15" y2="1">
<stop offset="0" stop-color="#E3C385"/><stop offset="0.4" stop-color="#E9CC94"/><stop offset="1" stop-color="#F0D9AA"/></linearGradient>
<linearGradient id="t1" x1="0" y1="0" x2="0" y2="1">
<stop offset="0" stop-color="#EDD09C"/><stop offset="1" stop-color="#F0D8A8"/></linearGradient>
<linearGradient id="t0" x1="0" y1="0" x2="1" y2="1">
<stop offset="0" stop-color="#CF8C4A"/><stop offset="0.5" stop-color="#D08D4C"/><stop offset="1" stop-color="#CD8A49"/></linearGradient>
<linearGradient id="b3" x1="0" y1="0" x2="1" y2="1">
<stop offset="0" stop-color="#F9E4B2"/><stop offset="1" stop-color="#F7DFA9"/></linearGradient>
<linearGradient id="b2" x1="0" y1="0" x2="1" y2="1">
<stop offset="0" stop-color="#F2CA8E"/><stop offset="1" stop-color="#F3CB8E"/></linearGradient>
<linearGradient id="b1" x1="0" y1="0" x2="1" y2="1">
<stop offset="0" stop-color="#E0A562"/><stop offset="1" stop-color="#E4AA68"/></linearGradient>
<linearGradient id="b0" x1="0" y1="0" x2="1" y2="0">
<stop offset="0" stop-color="#DEA160"/><stop offset="0.55" stop-color="#DEA160"/><stop offset="0.72" stop-color="#D59552"/><stop offset="0.85" stop-color="#DEA262"/><stop offset="1" stop-color="#E2A866"/></linearGradient>
<filter id="blur1" x="-20%" y="-20%" width="140%" height="140%"><feGaussianBlur stdDeviation="0.7"/></filter>
<filter id="blur4" x="-30%" y="-30%" width="160%" height="160%"><feGaussianBlur stdDeviation="4"/></filter>
<filter id="blur15" x="-30%" y="-30%" width="160%" height="160%"><feGaussianBlur stdDeviation="1.8"/></filter>
<filter id="blur3" x="-30%" y="-30%" width="160%" height="160%"><feGaussianBlur stdDeviation="3.5"/></filter>
<filter id="grainD" x="0" y="0" width="100%" height="100%" filterUnits="objectBoundingBox">
<feTurbulence type="fractalNoise" baseFrequency="0.3 0.07" numOctaves="2" seed="5" result="n"/>
<feColorMatrix in="n" type="matrix" values="0 0 0 0 0.62  0 0 0 0 0.40  0 0 0 0 0.18  1.8 0 0 0 -0.78"/>
</filter>
<filter id="grainL" x="0" y="0" width="100%" height="100%" filterUnits="objectBoundingBox">
<feTurbulence type="fractalNoise" baseFrequency="0.4 0.1" numOctaves="2" seed="11" result="n"/>
<feColorMatrix in="n" type="matrix" values="0 0 0 0 1  0 0 0 0 0.95  0 0 0 0 0.82  0 1.8 0 0 -0.8"/>
</filter>
<filter id="grainT" x="0" y="0" width="100%" height="100%" filterUnits="objectBoundingBox">
<feTurbulence type="fractalNoise" baseFrequency="0.4 0.02" numOctaves="2" seed="2" result="n"/>
<feColorMatrix in="n" type="matrix" values="0 0 0 0 0.6  0 0 0 0 0.42  0 0 0 0 0.2  1.2 0 0 0 -0.55"/>
</filter>
<clipPath id="ctop"><rect x="573.5" y="6" width="101.7" height="212.6"/></clipPath>
<clipPath id="c2h"><polygon points="573.5,54.6 675.2,60.4 675.2,115.8 573.5,108.6"/></clipPath>
<clipPath id="c1h"><polygon points="573.5,108.6 675.2,115.8 675.2,169.2 573.5,163.6"/></clipPath>
<clipPath id="c0h"><polygon points="573.5,163.6 675.2,169.2 675.2,218.6 573.5,218.6"/></clipPath>
<clipPath id="cbot"><rect x="573.5" y="225.1" width="101.7" height="214"/></clipPath>
</defs>
<g clip-path="url(#ctop)">
<polygon points="573.5,6.0 675.2,6.0 675.2,60.4 573.5,54.6" fill="url(#t3)" />
<polygon points="573.5,54.6 675.2,60.4 675.2,115.8 573.5,108.6" fill="url(#t2)" />
<polygon points="573.5,108.6 675.2,115.8 675.2,169.2 573.5,163.6" fill="url(#t1)" />
<polygon points="573.5,163.6 675.2,169.2 675.2,218.6 573.5,218.6" fill="url(#t0)" />
<g clip-path="url(#c2h)"><g filter="url(#blur3)">
<path d="M605 64 Q630 60 660 70 L660 76 Q630 68 605 70 Z" fill="#DDB878" opacity="0.6"/>
<path d="M566 88 Q610 80 680 100 L680 118 L566 112 Z" fill="#F2DDB2" opacity="0.6"/>
</g></g>
<g clip-path="url(#c1h)"><g filter="url(#blur4)">
<polygon points="544,152 599,106 628,106 573,152" fill="#D79C5B" opacity="0.8"/>
<polygon points="575,172 645,114 676,114 606,172" fill="#D59A58" opacity="0.8"/>
<polygon points="560,106 575,106 566,114" fill="#D89E5C" opacity="0.6"/>
<polygon points="640,106 690,106 690,118 650,118" fill="#DDAA68" opacity="0.5"/>
</g></g>
<g clip-path="url(#c0h)">
<g filter="url(#blur15)">
<polygon points="560,168 575,168 616,222 560,222" fill="#DBA266" opacity="0.9"/>
<polygon points="578,162 602,162 648,222 618,222" fill="#D89E5E" opacity="0.85"/>
<polygon points="630,162 650,162 690,210 690,222 675,222" fill="#D59957" opacity="0.6"/>
</g>
<g filter="url(#blur15)" stroke="#B47030" stroke-width="2" opacity="0.45" fill="none">
<path d="M573 179 L616 221"/><path d="M601 167 L647 221"/><path d="M650 166 L680 205"/>
</g>
</g>
<rect x="573.5" y="54" width="101.7" height="165" filter="url(#grainT)" opacity="0.3"/>
<rect x="573.5" y="6" width="101.7" height="1.2" fill="#C4C4BC" opacity="0.7"/>
<rect x="573.5" y="6" width="1.6" height="49" fill="#C6CAC6" opacity="0.7"/>
<line x1="573.5" y1="54.6" x2="675.2" y2="60.4" stroke="#8C7658" stroke-width="0.9"/>
<line x1="573.5" y1="108.6" x2="675.2" y2="115.8" stroke="#84664A" stroke-width="1.5"/>
<line x1="573.5" y1="163.6" x2="675.2" y2="169.2" stroke="#8E6440" stroke-width="1.4"/>
<line x1="573.5" y1="165.2" x2="675.2" y2="170.8" stroke="#A87448" stroke-width="2.4" opacity="0.6"/>
</g>
<g clip-path="url(#cbot)">
<polygon points="573.5,225.1 675.2,225.1 675.2,279.7 573.5,273.8" fill="url(#b3)" />
<polygon points="573.5,273.8 675.2,279.7 675.2,331.8 573.5,329.1" fill="url(#b2)" />
<polygon points="573.5,329.1 675.2,331.8 675.2,383.6 573.5,386.3" fill="url(#b1)" />
<polygon points="573.5,386.3 675.2,383.6 675.2,439.1 573.5,439.1" fill="url(#b0)" />
<rect x="573.5" y="225.1" width="101.7" height="214" filter="url(#grainD)" opacity="0.65"/>
<rect x="573.5" y="225.1" width="101.7" height="214" filter="url(#grainL)" opacity="0.3"/>
<g clip-path="url(#cbot)" filter="url(#blur1)" stroke="#B07838" stroke-width="0.9" fill="none" opacity="0.3"><path d="M575 262 Q590 240 600 226"/><path d="M588 276 Q604 250 612 226"/><path d="M613 277 Q622 250 625 226"/><path d="M638 278 Q643 250 641 226"/><path d="M656 279 Q658 250 655 226"/><path d="M585 330 Q591 300 586 277"/><path d="M601 330 Q607 300 603 277"/><path d="M620 331 Q625 300 620 278"/><path d="M641 331 Q645 305 640 279"/><path d="M661 332 Q664 305 659 279"/><path d="M582 386 Q586 360 580 331"/><path d="M598 386 Q604 358 597 331"/><path d="M615 385 Q621 358 614 331"/><path d="M635 385 Q641 358 633 332"/><path d="M656 384 Q661 358 653 332"/><path d="M592 439 Q598 410 592 386"/><path d="M608 439 Q614 410 607 386"/><path d="M624 439 Q629 410 622 386"/><path d="M664 439 Q670 410 662 385"/></g>
<path d="M648 386 Q641 410 646 439" stroke="#C4844A" stroke-width="3" fill="none" opacity="0.55" filter="url(#blur1)"/>
<path d="M657 386 Q651 410 655 439" stroke="#C4844A" stroke-width="2" fill="none" opacity="0.4" filter="url(#blur1)"/>
<rect x="573.5" y="225.1" width="101.7" height="1.2" fill="#FBF0DA" opacity="0.8"/>
<line x1="573.5" y1="273.8" x2="675.2" y2="279.7" stroke="#8A6E50" stroke-width="0.9"/>
<line x1="573.5" y1="327.5" x2="675.2" y2="330.2" stroke="#F8E6C4" stroke-width="2.6" opacity="0.85"/>
<line x1="573.5" y1="329.4" x2="675.2" y2="332.1" stroke="#9C7450" stroke-width="1.5"/>
<line x1="573.5" y1="386.3" x2="675.2" y2="383.6" stroke="#8E6440" stroke-width="0.8"/>
</g>
<g font-family='"Liberation Serif", serif' font-weight="bold" font-size="16.8" fill="#fff"><text x="580.4" y="50.9">3h</text><text x="580.4" y="104.9">2h</text><text x="580.9" y="159.5">1 h</text><text x="580.9" y="216.0">0 h</text><text x="580.9" y="269.7">3h</text><text x="580.9" y="324.5">2h</text><text x="581.4" y="379.3">1 h</text><text x="581.2" y="435.8">0 h</text></g>
<text x="653.3" y="431" font-family='"Liberation Serif", serif' font-weight="bold" font-size="16.5" fill="#111">(e)</text>
</svg>
</body></html>
